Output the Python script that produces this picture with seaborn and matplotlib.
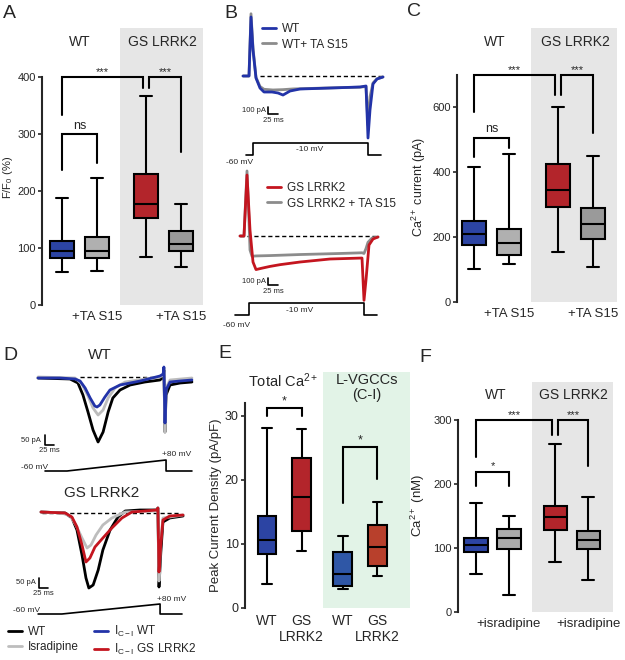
import numpy as np
import pandas as pd
import matplotlib
matplotlib.use('Agg')
import matplotlib.pyplot as plt
import seaborn as sns

W, H = 625, 660

# box summaries: min, q1, median, q3, max
a_wt = [58, 82, 95, 113, 188]
a_wt_ta = [60, 82, 95, 120, 222]
a_gs = [85, 152, 178, 230, 367]
a_gs_ta = [67, 94, 107, 130, 177]

c_wt = [100, 175, 210, 250, 415]
c_wt_ta = [117, 145, 180, 225, 455]
c_gs = [155, 293, 345, 425, 600]
c_gs_ta = [107, 195, 240, 290, 450]

e_total_wt = [3.8, 8.5, 10.7, 14.4, 28.2]
e_total_gs = [8.9, 12.0, 17.3, 23.5, 28.0]
e_ci_wt = [2.9, 3.5, 5.3, 8.8, 11.2]
e_ci_gs = [5.0, 6.6, 9.5, 12.9, 16.5]

f_wt = [60, 93, 105, 116, 170]
f_wt_isr = [26, 98, 115, 130, 150]
f_gs = [78, 128, 148, 165, 263]
f_gs_isr = [50, 98, 113, 126, 180]

# B traces (ms, pA)
b_wt_t = [-5, 10, 15, 20, 27.5, 37.5, 47.5, 67.5, 82.5, 95, 112.5, 137.5, 212.5, 287.5, 302.5, 307.5, 312.5, 320, 330, 345]
b_wt_i = [0, 0, 844, 372, -29, -172, -229, -229, -243, -272, -215, -186, -172, -157, -143, -887, -486, -114, -43, -14]
b_wtta_t = [-5, 10, 15, 20, 27.5, 37.5, 47.5, 70, 95, 120, 200, 287.5, 302.5, 307.5, 312.5, 320, 330, 345]
b_wtta_i = [0, 0, 890, 400, -20, -150, -190, -200, -195, -185, -172, -160, -150, -700, -300, -100, -40, -14]
b_gs_t = [0, 10, 17.5, 25, 32.5, 40, 55, 75, 100, 150, 225, 305, 310, 315, 322.5, 332.5, 345]
b_gs_i = [0, 0, 872, 86, -372, -480, -460, -435, -410, -372, -329, -315, -920, -629, -129, -43, -14]
b_gsta_t = [0, 10, 17.5, 22, 25, 30, 40, 75, 150, 250, 305, 310, 315, 320, 330, 345]
b_gsta_i = [0, 0, 930, 300, -200, -290, -285, -280, -265, -250, -240, -250, -180, -90, -30, -14]
step_t = [2.5, 20, 20, 307.5, 307.5, 340]
step_v = [-60, -60, -10, -10, -60, -60]
step2_t = [-12.5, 22.5, 22.5, 310, 310, 342.5]

# D traces (ms, pA)
d_wt_t = [0, 89, 111, 125, 139, 153, 167, 181, 195, 208, 228, 256, 297, 339, 348, 350, 353, 356, 367, 395, 428]
d_wt_i = [-5, -10, -30, -90, -175, -265, -325, -275, -175, -105, -65, -40, -25, -15, 0, 35, -275, -90, -40, -30, -25]
d_wtisr_t = [0, 103, 122, 139, 153, 167, 181, 195, 214, 242, 297, 339, 348, 350, 353, 356, 367, 428]
d_wtisr_i = [0, -5, -35, -95, -155, -190, -165, -105, -55, -25, -10, 0, 10, 45, -275, -55, -15, -5]
d_wtci_t = [0, 61, 103, 117, 131, 145, 158, 164, 172, 186, 200, 228, 284, 339, 348, 350, 353, 356, 367, 395, 428]
d_wtci_i = [-5, -5, -10, -20, -55, -105, -145, -150, -140, -100, -65, -40, -20, 5, 15, 50, -230, -65, -25, -20, -15]
d_gs_t = [0, 67, 86, 100, 114, 125, 133, 145, 159, 172, 192, 214, 234, 275, 322, 325, 328, 333, 339, 358, 395]
d_gs_i = [5, 0, -25, -85, -210, -325, -375, -360, -285, -185, -85, -20, 10, 15, 15, 25, -370, -200, -45, -25, -15]
d_gsisr_t = [0, 58, 81, 97, 114, 128, 139, 153, 172, 197, 234, 322, 325, 328, 333, 339, 395]
d_gsisr_i = [5, 0, -15, -60, -125, -175, -160, -110, -60, -25, 5, 10, 20, -340, -135, -25, -10]
d_gsci_t = [0, 67, 86, 100, 114, 125, 136, 150, 172, 197, 225, 253, 289, 322, 325, 328, 333, 339, 358, 395]
d_gsci_i = [5, 0, -20, -70, -160, -245, -225, -170, -125, -75, -25, 5, 10, 15, 25, -295, -160, -35, -15, -10]
ramp1_t = [19.5, 80.6, 356, 356, 428]
ramp2_t = [-8, 58, 331, 331, 392]
ramp_v = [-60, -60, 80, -60, -60]

BLUE = '#2c44a3'
RED = '#b3252b'
TBLUE = '#2233a8'
TRED = '#c4151f'

sns.set_style('ticks')
plt.rcParams['font.family'] = ['Liberation Sans', 'DejaVu Sans']
plt.rcParams['mathtext.fontset'] = 'custom'
plt.rcParams['mathtext.rm'] = 'Liberation Sans'
plt.rcParams['mathtext.it'] = 'Liberation Sans:italic'

fig = plt.figure(figsize=(W / 100, H / 100), dpi=100)


def px_axes(x0, y0, x1, y1):
    return fig.add_axes([x0 / W, 1 - y1 / H, (x1 - x0) / W, (y1 - y0) / H])


def ftext(x, y, s, **kw):
    fig.text(x / W, 1 - y / H, s, **kw)


def box_panel(box, x_org, unit, ppu, names, values, pos, colors, width, spine_top, ticks):
    x0, y0, x1, y1 = box
    ax = px_axes(*box)
    ax.set_facecolor('none')
    df = pd.DataFrame({'pos': np.repeat(pos, 5), 'val': np.concatenate(values),
                       'grp': np.repeat(names, 5)})
    sns.boxplot(data=df, x='pos', y='val', hue='grp', palette=dict(zip(names, colors)),
                native_scale=True, dodge=False, whis=(0, 100), width=width,
                linecolor='black', linewidth=1.5, saturation=1, legend=False, ax=ax)
    ax.set_xlim((x0 - x_org) / unit, (x1 - x_org) / unit)
    ax.set_ylim(0, (y1 - y0) / ppu)
    sns.despine(ax=ax, bottom=True)
    ax.spines['left'].set_linewidth(1.5)
    ax.spines['left'].set_bounds(0, spine_top)
    ax.set_yticks(ticks)
    ax.tick_params(axis='y', labelsize=8, length=3, width=1.2, pad=1.5)
    ax.tick_params(axis='x', length=0, labelsize=9.5, pad=4)
    ax.set_xlabel('')
    return ax


def bracket(ax, x1, x2, y, l1, l2, txt, fs=8, dy=0):
    ax.plot([x1, x1, x2, x2], [l1, y, y, l2], color='black', lw=1.5, solid_joinstyle='miter')
    ax.text((x1 + x2) / 2, y + dy, txt, ha='center', va='bottom', fontsize=fs)


def trace_axes(box, origin, scale, offset=0):
    x0, y0, x1, y1 = box
    ox, oy = origin
    sx, sy = scale
    ax = px_axes(*box)
    ax.set_xlim((x0 - ox) * sx, (x1 - ox) * sx)
    ax.set_ylim(offset + (oy - y1) * sy, offset + (oy - y0) * sy)
    ax.set_axis_off()
    return ax


def trace(ax, t, i, color, lw=2.0, label=None):
    sns.lineplot(x=t, y=i, ax=ax, color=color, lw=lw, estimator=None, sort=False,
                 legend=False, label=label)


def scalebar(ax, t, i, dt, di, ltxt, btxt, lpad, bpad):
    ax.plot([t, t, t + dt], [i + di, i, i], color='black', lw=1.2)
    ax.text(t - lpad, i + di / 2, ltxt, ha='right', va='center', fontsize=5.5)
    ax.text(t + dt / 2, i - bpad, btxt, ha='center', va='top', fontsize=5.5)


# ---------- A ----------
ax = box_panel((42, 28, 205, 305), 62, 35, 0.57,
               ['WT', 'WT+TA', 'GS', 'GS+TA'], [a_wt, a_wt_ta, a_gs, a_gs_ta],
               [0, 1, 2.4, 3.4], [BLUE, '#b0b0b0', RED, '#9a9a9a'], 0.7, 400,
               [0, 100, 200, 300, 400])
ax.axvspan(1.66, 4.03, color='#e6e6e6', lw=0, zorder=0)
ax.set_xticks([1, 3.4], ['+TA S15', '+TA S15'])
ax.set_ylabel('F/F$_0$ (%)', fontsize=8)
ax.yaxis.set_label_coords(-0.165, 0.46)
ax.text(0.5, 461, 'WT', ha='center', va='center', fontsize=10)
ax.text(2.86, 461, 'GS LRRK2', ha='center', va='center', fontsize=10)
bracket(ax, 0, 1, 300, 237, 249, 'ns', fs=9, dy=4)
bracket(ax, 0, 2.31, 400, 333, 381, '***')
bracket(ax, 2.49, 3.4, 400, 381, 268, '***')

# ---------- C ----------
ax = box_panel((457, 28, 620, 302), 474, 35, 0.325,
               ['WT', 'WT+TA', 'GS', 'GS+TA'], [c_wt, c_wt_ta, c_gs, c_gs_ta],
               [0, 1, 2.4, 3.4], [BLUE, '#b0b0b0', RED, '#9a9a9a'], 0.66, 700,
               [0, 200, 400, 600])
ax.axvspan(1.63, 4.09, color='#e6e6e6', lw=0, zorder=0)
ax.set_xticks([1, 3.4], ['+TA S15', '+TA S15'])
ax.set_ylabel('Ca$^{2+}$ current (pA)', fontsize=9)
ax.yaxis.set_label_coords(-0.178, 0.42)
ax.text(0.6, 800, 'WT', ha='center', va='center', fontsize=10)
ax.text(2.9, 800, 'GS LRRK2', ha='center', va='center', fontsize=10)
bracket(ax, 0, 1, 505, 447, 475, 'ns', fs=9, dy=8)
bracket(ax, 0, 2.31, 698, 585, 637, '***')
bracket(ax, 2.49, 3.4, 698, 637, 520, '***')

# ---------- E ----------
ax = box_panel((245, 372, 412, 608), 267, 34.5, 6.4,
               ['WT', 'GS', 'WT CI', 'GS CI'], [e_total_wt, e_total_gs, e_ci_wt, e_ci_gs],
               [0, 1, 2.2, 3.2], [BLUE, RED, '#2f57a6', '#b8402c'], 0.55, 32,
               [0, 10, 20, 30])
ax.axvspan(1.62, 4.14, color='#e2f3e7', lw=0, zorder=0)
ax.set_xticks([0, 1, 2.2, 3.2], ['WT', 'GS\nLRRK2', 'WT', 'GS\nLRRK2'])
ax.tick_params(axis='x', labelsize=10, pad=4)
ax.tick_params(axis='y', labelsize=9)
ax.set_ylabel('Peak Current Density (pA/pF)', fontsize=9.5)
ax.yaxis.set_label_coords(-0.135, 0.436)
ax.text(0.47, 35.5, 'Total Ca$^{2+}$', ha='center', va='center', fontsize=10.5)
ax.text(2.9, 34.5, 'L-VGCCs\n(C-I)', ha='center', va='center', fontsize=10.5,
        linespacing=1.1)
bracket(ax, 0, 1, 31.25, 30, 30, '*', fs=9, dy=0.1)
bracket(ax, 2.2, 3.2, 25.2, 16.4, 20.2, '*', fs=9, dy=0.1)

# ---------- F ----------
ax = box_panel((458, 382, 620, 612), 476, 33, 0.64,
               ['WT', 'WT+isr', 'GS', 'GS+isr'], [f_wt, f_wt_isr, f_gs, f_gs_isr],
               [0, 1, 2.4, 3.4], [BLUE, '#ababab', RED, '#9e9e9e'], 0.7, 300,
               [0, 100, 200, 300])
ax.axvspan(1.70, 4.15, color='#e6e6e6', lw=0, zorder=0)
ax.set_xticks([1, 3.4], ['+isradipine', '+isradipine'])
ax.set_ylabel('Ca$^{2+}$ (nM)', fontsize=9.5)
ax.yaxis.set_label_coords(-0.19, 0.465)
ax.text(0.6, 339, 'WT', ha='center', va='center', fontsize=10)
ax.text(2.95, 339, 'GS LRRK2', ha='center', va='center', fontsize=10)
bracket(ax, 0, 1, 219, 197, 197, '*', dy=1)
bracket(ax, 0, 2.31, 300, 242, 276, '***')
bracket(ax, 2.49, 3.4, 300, 276, 228, '***')

# ---------- B ----------
ax = trace_axes((228, 8, 395, 145), (245, 76), (2.5, 14.3))
ax.plot([37.5, 345], [0, 0], color='black', lw=1, ls=(0, (3, 2)))
trace(ax, b_wtta_t, b_wtta_i, '#8c8c8c', label='WT+ TA S15')
trace(ax, b_wt_t, b_wt_i, TBLUE, label='WT')
h, l = ax.get_legend_handles_labels()
ax.legend(h[::-1], l[::-1], loc='upper left', bbox_to_anchor=(262 / W, 1 - 23 / H),
          bbox_transform=fig.transFigure, frameon=False, fontsize=8.5, handlelength=1.2,
          handletextpad=0.5, labelspacing=0.3, borderpad=0, borderaxespad=0)
scalebar(ax, 57.5, -543, 25, 100, '100 pA', '25 ms', 5, 40)
ax = trace_axes((228, 130, 395, 170), (245, 154.5), (2.5, 50 / 12), -60)
ax.plot(step_t, step_v, color='black', lw=1.2)
ax.text(162.5, -41, '-10 mV', ha='center', va='center', fontsize=6)
ax.text(-12.5, -95, '-60 mV', ha='center', va='center', fontsize=6)

ax = trace_axes((228, 165, 395, 305), (240, 236), (2.5, 14.3))
ax.plot([0, 342], [0, 0], color='black', lw=1, ls=(0, (3, 2)))
trace(ax, b_gsta_t, b_gsta_i, '#8c8c8c', label='GS LRRK2 + TA S15')
trace(ax, b_gs_t, b_gs_i, TRED, label='GS LRRK2')
h, l = ax.get_legend_handles_labels()
ax.legend(h[::-1], l[::-1], loc='upper left', bbox_to_anchor=(267 / W, 1 - 182 / H),
          bbox_transform=fig.transFigure, frameon=False, fontsize=8.5, handlelength=1.2,
          handletextpad=0.5, labelspacing=0.3, borderpad=0, borderaxespad=0)
scalebar(ax, 70, -700, 25, 100, '100 pA', '25 ms', 5, 40)
ax = trace_axes((228, 295, 395, 335), (240, 315), (2.5, 50 / 12), -60)
ax.plot(step2_t, step_v, color='black', lw=1.2)
ax.text(150, -43, '-10 mV', ha='center', va='center', fontsize=6)
ax.text(-7.5, -102, '-60 mV', ha='center', va='center', fontsize=6)

# ---------- D ----------
ax = trace_axes((15, 360, 200, 456), (38, 377), (2.78, 5))
ax.plot([117, 348], [0, 0], color='black', lw=1, ls=(0, (3, 2)))
trace(ax, d_wt_t, d_wt_i, 'black', label='WT')
trace(ax, d_wtisr_t, d_wtisr_i, '#bdbdbd', label='Isradipine')
trace(ax, d_wtci_t, d_wtci_i, TBLUE, label=r'I$_{\mathregular{C-I}}$ WT')
hd, ld = ax.get_legend_handles_labels()
scalebar(ax, 19.5, -340, 25, 50, '50 pA', '25 ms', 11, 8)
ax = trace_axes((5, 445, 200, 480), (38, 471), (2.78, 140 / 11), -60)
ax.plot(ramp1_t, ramp_v, color='black', lw=1.2)
ax.text(386, 110, '+80 mV', ha='center', va='bottom', fontsize=6)
ax.text(28, -60, '-60 mV', ha='right', va='bottom', fontsize=6)

ax = trace_axes((15, 495, 200, 600), (41, 513), (2.78, 5))
ax.plot([3, 386], [0, 0], color='black', lw=1, ls=(0, (3, 2)))
trace(ax, d_gs_t, d_gs_i, 'black')
trace(ax, d_gsisr_t, d_gsisr_i, '#bdbdbd')
trace(ax, d_gsci_t, d_gsci_i, TRED, label=r'I$_{\mathregular{C-I}}$ GS LRRK2')
h, l = ax.get_legend_handles_labels()
scalebar(ax, -5.6, -375, 25, 50, '50 pA', '25 ms', 8, 8)
ax = trace_axes((5, 590, 200, 625), (41, 614), (2.78, 14), -60)
ax.plot(ramp2_t, ramp_v, color='black', lw=1.2)
ax.text(362, 100, '+80 mV', ha='center', va='bottom', fontsize=6)
ax.text(-3, -60, '-60 mV', ha='right', va='bottom', fontsize=6)

fig.legend(hd + h, ld + l, ncol=2, loc='upper left', bbox_to_anchor=(8 / W, 1 - 624 / H),
           frameon=False, fontsize=8.5, handlelength=1.2, handletextpad=0.5,
           labelspacing=0.25, columnspacing=1.3, borderpad=0, borderaxespad=0)

ftext(100, 355, 'WT', ha='center', va='center', fontsize=11)
ftext(102, 493, 'GS LRRK2', ha='center', va='center', fontsize=11)

# panel letters
for x, y, s in [(3, 14, 'A'), (224, 13, 'B'), (407, 12, 'C'), (3, 355, 'D'),
                (218, 354, 'E'), (419, 357, 'F')]:
    ftext(x, y, s, ha='left', va='center', fontsize=14)

fig.savefig('out.png', dpi=100)
